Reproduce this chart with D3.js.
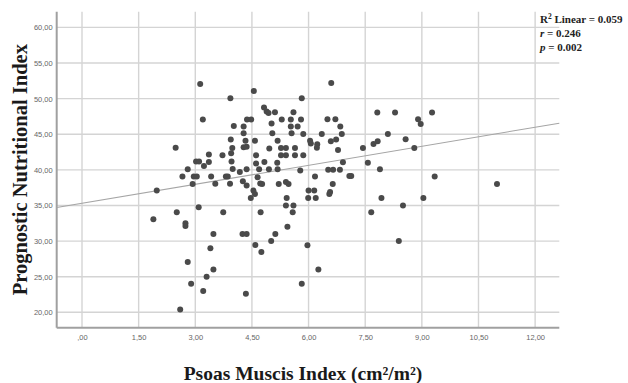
<!DOCTYPE html>
<html>
<head>
<meta charset="utf-8">
<script src="https://cdn.jsdelivr.net/npm/d3@7"></script>
<style>
  body { margin: 0; background: #fff; }
  svg { display: block; }
</style>
</head>
<body>
<svg id="chart" width="628" height="383"></svg>
<script>
// psoas muscle index (cm2/m2) vs prognostic nutritional index
const psoas = [
  1.89, 1.98, 2.51, 2.48, 2.74, 2.74, 2.80, 2.89, 2.60, 2.93,
  3.09, 3.21, 3.30, 3.40, 3.48, 3.48, 3.53, 3.74, 3.92, 4.25,
  4.36, 4.34, 4.59, 4.75, 4.73, 5.01, 5.12, 5.44, 5.40, 5.42,
  5.58, 5.60, 5.82, 5.97, 5.99, 6.00, 6.15, 6.19, 6.26, 6.55,
  6.57, 6.64, 7.66, 7.93, 8.39, 8.50, 9.04, 10.99, 4.47, 4.54,
  4.58, 4.26, 4.36, 4.72, 4.77, 5.21, 5.40, 5.47, 6.60, 5.82,
  7.82, 8.29, 9.27, 6.50, 6.71, 8.90, 8.97, 6.84, 6.88, 5.86,
  6.35, 8.10, 6.04, 6.06, 6.23, 6.22, 6.59, 6.73, 6.78, 7.83,
  7.72, 8.57, 7.44, 8.80, 5.86, 6.91, 7.57, 7.89, 5.78, 6.52,
  6.65, 6.83, 6.17, 7.08, 7.13, 9.34, 3.13, 3.93, 3.20, 4.02,
  4.28, 4.28, 3.94, 3.98, 3.95, 4.28, 3.36, 3.72, 3.02, 3.10,
  3.36, 3.23, 3.96, 2.80, 3.99, 2.66, 2.96, 3.04, 3.42, 3.81,
  3.86, 4.18, 4.55, 4.82, 4.89, 4.94, 5.11, 5.60, 4.37, 4.48,
  5.29, 5.53, 5.80, 5.02, 5.53, 5.71, 5.04, 5.55, 4.33, 4.58,
  5.18, 4.96, 5.27, 5.40, 5.64, 5.27, 5.40, 5.64, 4.61, 4.83,
  5.17, 4.69, 4.95, 5.18, 4.36, 4.65, 4.61, 4.36
]
const pni = [
  33.05, 37.1, 34.05, 43.1, 32.5, 32.1, 27.06, 24.0, 20.4, 38.0,
  34.75, 23.0, 25.0, 29.0, 31.0, 26.0, 38.06, 34.05, 38.06, 31.0,
  31.0, 22.6, 29.45, 28.47, 34.05, 30.0, 31.0, 32.0, 35.0, 36.05,
  34.05, 35.0, 24.0, 29.4, 36.05, 37.1, 37.1, 36.05, 26.0, 36.6,
  36.9, 38.0, 34.05, 36.05, 30.0, 35.0, 36.05, 38.0, 36.05, 37.1,
  36.6, 38.4, 37.8, 38.1, 38.0, 38.0, 38.3, 38.0, 52.2, 50.05,
  48.05, 48.05, 48.05, 47.1, 47.1, 47.1, 46.45, 46.07, 45.04, 45.04,
  45.04, 45.04, 44.1, 43.7, 43.6, 43.1, 44.0, 44.25, 42.8, 44.0,
  43.64, 44.3, 43.08, 43.08, 42.05, 41.05, 41.0, 40.07, 39.9, 40.0,
  40.0, 40.0, 39.05, 39.15, 39.15, 39.05, 52.06, 50.05, 47.05, 46.17,
  46.07, 45.14, 44.25, 43.08, 42.33, 43.17, 42.14, 42.05, 41.16, 41.16,
  41.1, 40.55, 41.16, 40.07, 40.12, 39.05, 39.05, 39.05, 39.05, 39.05,
  39.05, 39.7, 51.08, 48.74, 48.18, 47.99, 48.08, 48.08, 47.05, 47.05,
  47.05, 47.05, 47.05, 46.5, 46.07, 46.07, 45.14, 45.14, 44.1, 44.1,
  44.1, 42.98, 43.08, 43.08, 43.08, 42.05, 42.05, 42.05, 42.05, 41.1,
  41.0, 40.07, 40.07, 40.07, 40.07, 38.96, 40.9, 43.25
]
const xTicks = [0, 1.5, 3, 4.5, 6, 7.5, 9, 10.5, 12]
const yTicks = [20, 25, 30, 35, 40, 45, 50, 55, 60]
const fitIntercept = 35.3
const fitSlope = 0.89
const statLines = [
  { label: 'R', sup: '2', rest: ' Linear = 0.059' },
  { label: 'r', italic: true, rest: ' = 0.246' },
  { label: 'p', italic: true, rest: ' = 0.002' },
]

const svg = d3.select('#chart')
const plotLeft = 56.7, plotRight = 559.3, plotTop = 11.7, plotBottom = 327.7

const x = d3.scaleLinear().domain([-0.67, 12.64]).range([plotLeft, plotRight])
const y = d3.scaleLinear().domain([17.84, 62.2]).range([plotBottom, plotTop])

const fmt = v => d3.format('.2f')(v).replace('.', ',').replace(/^0,/, ',')

// grid
const grid = svg.append('g').attr('stroke', '#d4d4d4').attr('stroke-width', 1.4)
grid.selectAll('line.v')
  .data(xTicks)
  .enter()
  .append('line')
  .attr('class', 'v')
  .attr('x1', d => x(d)).attr('x2', d => x(d))
  .attr('y1', plotTop).attr('y2', plotBottom)
grid.selectAll('line.h')
  .data(yTicks)
  .enter()
  .append('line')
  .attr('class', 'h')
  .attr('x1', plotLeft).attr('x2', plotRight)
  .attr('y1', d => y(d)).attr('y2', d => y(d))

// axes
const xAxis = svg.append('g')
  .attr('transform', `translate(0,${plotBottom})`)
  .call(d3.axisBottom(x).tickValues(xTicks).tickFormat(fmt).tickSize(0).tickPadding(7))
const yAxis = svg.append('g')
  .attr('transform', `translate(${plotLeft},0)`)
  .call(d3.axisLeft(y).tickValues(yTicks).tickFormat(fmt).tickSize(0).tickPadding(4))

;[xAxis, yAxis].forEach(a => {
  a.select('.domain').attr('stroke', '#a0a0a0').attr('stroke-width', 2)
  a.selectAll('text')
    .attr('fill', '#666')
    .attr('font-family', 'Liberation Sans, Arial, sans-serif')
    .attr('font-size', '7.5px')
})
xAxis.select('.domain').attr('d', `M${plotLeft},0H${plotRight}`)
yAxis.select('.domain').attr('d', `M0,${plotTop}V${plotBottom}`)

// fit line
const [x0, x1] = x.domain()
svg.append('line')
  .attr('x1', x(x0)).attr('y1', y(fitIntercept + fitSlope * x0))
  .attr('x2', x(x1)).attr('y2', y(fitIntercept + fitSlope * x1))
  .attr('stroke', '#a5a5a5')
  .attr('stroke-width', 1.1)

// points
svg.append('g')
  .selectAll('circle')
  .data(psoas.map((v, i) => [v, pni[i]]))
  .enter()
  .append('circle')
  .attr('cx', d => x(d[0]))
  .attr('cy', d => y(d[1]))
  .attr('r', 3)
  .attr('fill', '#4a4a4a')

// stats box
const serif = 'Liberation Serif, Times New Roman, serif'
statLines.forEach((s, i) => {
  const t = svg.append('text')
    .attr('x', 540)
    .attr('y', 22.5 + i * 14)
    .attr('font-family', serif)
    .attr('font-weight', 'bold')
    .attr('font-size', '11px')
    .attr('fill', '#222')
  t.append('tspan').attr('font-style', s.italic ? 'italic' : 'normal').text(s.label)
  if (s.sup) t.append('tspan').attr('dy', -4).attr('font-size', '7.5px').text(s.sup)
  t.append('tspan').attr('dy', s.sup ? 4 : 0).text(s.rest)
})

// axis titles
svg.append('text')
  .attr('transform', `translate(27,${(plotTop + plotBottom) / 2}) rotate(-90)`)
  .attr('text-anchor', 'middle')
  .attr('font-family', serif)
  .attr('font-weight', 'bold')
  .attr('font-size', '20.5px')
  .attr('fill', '#1a1a1a')
  .text('Prognostic Nutritional Index')

svg.append('text')
  .attr('x', 303)
  .attr('y', 380)
  .attr('text-anchor', 'middle')
  .attr('font-family', serif)
  .attr('font-weight', 'bold')
  .attr('font-size', '19.5px')
  .attr('fill', '#1a1a1a')
  .text('Psoas Muscis Index (cm²/m²)')
</script>
</body>
</html>
